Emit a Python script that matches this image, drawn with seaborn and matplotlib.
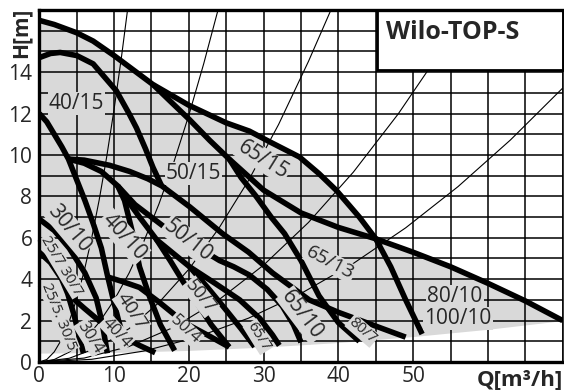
import numpy as np
import matplotlib
matplotlib.use('Agg')
import matplotlib.pyplot as plt
import seaborn as sns
from matplotlib.patches import Rectangle

# pump curves, Q in m3/h, H in m
env_q = [0, 2, 5, 7.2, 10, 15.2, 20, 25, 28.1, 31, 34.8, 37.4, 39.7, 42.8, 45, 47, 49, 51.2]
env_h = [16.5, 16.3, 15.9, 15.5, 14.8, 13.4, 12.4, 11.55, 11.15, 10.6, 9.9, 9.1, 8.3, 7.0, 5.95, 4.6, 3.0, 1.35]

b80_q = [15.2, 17.5, 20.1, 22.8, 25.4, 30, 35, 40, 45, 50, 55, 60, 65, 70]
b80_h = [13.4, 12.6, 11.7, 10.7, 9.8, 8.3, 7.2, 6.5, 5.95, 5.3, 4.6, 3.8, 2.95, 2.0]

c6513_q = [25.4, 27, 29, 31, 32.8, 35, 37.4, 40, 42.8]
c6513_h = [9.8, 8.9, 8.0, 7.0, 6.2, 4.9, 3.2, 1.9, 1.0]

c4015_q = [0, 1.5, 2.8, 5, 7.2, 10.3, 12, 13, 14.2, 15.2, 16.3]
c4015_h = [14.7, 14.9, 14.95, 14.8, 14.4, 13.1, 12.0, 11.3, 10.3, 9.4, 8.55]

c12_q = [0, 1, 2, 3, 3.9, 5, 6.1, 7.2, 8.3, 9.1, 9.9, 10.6, 11.2]
c12_h = [12, 11.6, 11.0, 10.4, 9.8, 8.8, 7.8, 6.7, 5.5, 4.2, 3.0, 2.0, 1.25]

flat_q = [3.9, 6, 9.4, 12.1, 14.5, 16.4, 20.1, 24.5, 28, 31.2, 36.1, 40, 43, 46, 49]
flat_h = [9.8, 9.75, 9.5, 9.2, 8.85, 8.5, 7.5, 6.2, 5.3, 4.3, 3.0, 2.4, 2.0, 1.6, 1.2]

c5010_q = [3.9, 6, 8.3, 10.5, 12.8, 16.8, 20, 24.1, 26, 28.1, 30.5, 32.5, 34, 35]
c5010_h = [9.8, 9.6, 9.2, 8.5, 7.6, 6.5, 5.8, 4.9, 4.6, 4.2, 3.5, 2.7, 1.8, 0.95]

cmid_q = [10.5, 12, 13.4, 15.7, 20.1, 23.5, 26.8, 29.5, 31.2, 32.1]
cmid_h = [8.5, 7.7, 7.0, 5.9, 4.6, 3.8, 3.0, 2.1, 1.3, 0.8]

c507_q = [15.7, 17.5, 19.2, 21, 23, 25.4]
c507_h = [5.9, 4.9, 3.9, 2.9, 1.8, 0.72]

c657_q = [20.1, 22.5, 25, 27, 28.8]
c657_h = [4.6, 3.6, 2.5, 1.6, 0.74]

c4010_q = [10.5, 11.4, 12.5, 13.4, 14.8, 16.2, 18.1]
c4010_h = [8.5, 7.8, 6.2, 4.6, 3.1, 1.8, 0.55]

c504_q = [9.2, 11, 13.4, 16, 19.4, 22.5, 25.4]
c504_h = [4.1, 3.9, 3.6, 2.9, 1.9, 1.3, 0.72]

l1_q = [0, 2, 4, 6.1, 7.6, 8.4, 9.1]
l1_h = [6.9, 6.35, 5.5, 4.3, 3.1, 1.9, 0.42]

l2_q = [0, 1.5, 3, 3.8, 4.7, 5.3, 5.9]
l2_h = [5.3, 4.8, 4.0, 3.3, 2.2, 1.3, 0.42]

l3_q = [3.8, 6, 8.3, 11, 13.4, 15.5]
l3_h = [3.3, 2.6, 1.9, 1.25, 0.8, 0.45]

thick_curves = [
    (env_q, env_h), (b80_q, b80_h), (c6513_q, c6513_h), (c4015_q, c4015_h),
    (c12_q, c12_h), (flat_q, flat_h), (c5010_q, c5010_h), (cmid_q, cmid_h),
    (c507_q, c507_h), (c657_q, c657_h), (c4010_q, c4010_h), (c504_q, c504_h),
    (l1_q, l1_h), (l2_q, l2_h), (l3_q, l3_h),
]

# lower edge of the grey working range
floor_q = [0, 10, 20, 30, 40, 50, 60, 70]
floor_h = [0.43, 0.46, 0.56, 0.72, 0.94, 1.23, 1.58, 2.0]

# thin system curves
sys1_q = [0, 1, 2, 3, 4, 5, 6, 7, 8, 9, 10, 11, 11.8]
sys1_h = [0, 0.12, 0.49, 1.10, 1.95, 3.05, 4.39, 5.98, 7.81, 9.88, 12.2, 14.76, 17.0]
sys2_q = [0, 2, 4, 6, 8, 10, 12, 14, 16, 18, 20, 22, 23.9]
sys2_h = [0, 0.12, 0.48, 1.07, 1.91, 2.98, 4.29, 5.84, 7.63, 9.66, 11.92, 14.42, 17.0]
sys3_q = [0, 4, 8, 12, 16, 20, 24, 28, 32, 36, 39]
sys3_h = [0, 0.18, 0.72, 1.61, 2.87, 4.48, 6.45, 8.78, 11.47, 14.52, 17.0]
sys4_q = [0, 6, 12, 18, 24, 30, 36, 42, 48, 54, 57.2]
sys4_h = [0, 0.19, 0.75, 1.68, 3.0, 4.68, 6.74, 9.17, 11.98, 15.16, 17.0]
sys5_q = [0, 7, 14, 21, 28, 35, 42, 49, 56, 63, 70]
sys5_h = [0, 0.13, 0.53, 1.19, 2.12, 3.31, 4.76, 6.48, 8.47, 10.72, 13.23]
sys_curves = [(sys1_q, sys1_h), (sys2_q, sys2_h), (sys3_q, sys3_h),
              (sys4_q, sys4_h), (sys5_q, sys5_h)]

# curve labels: text, Q, H, angle, size
curve_labels = [
    ('40/15', 5.0, 12.5, 0, 15),
    ('50/15', 20.6, 9.1, 0, 15),
    ('65/15', 29.95, 9.76, -32, 15),
    ('50/10', 19.9, 5.86, -38, 15),
    ('40/10', 11.3, 6.05, -48, 15),
    ('30/10', 3.97, 6.46, -50, 15),
    ('25/7 30/7', 3.0, 4.65, -59, 11),
    ('25/5. 30/5', 2.63, 2.19, -68, 11),
    ('30/4', 6.78, 1.19, -58, 12),
    ('40/4', 10.35, 1.42, -47, 12),
    ('40/7', 12.35, 2.43, -57, 14),
    ('50/7', 21.5, 3.15, -51, 13),
    ('50/4', 19.5, 1.55, -42, 12),
    ('65/7', 29.3, 1.22, -58, 11),
    ('65/10', 35.1, 2.27, -53, 15),
    ('65/13', 38.9, 4.8, -28, 14),
    ('80/7', 43.2, 1.51, -41, 11),
    ('80/10', 55.6, 3.15, 0, 15),
    ('100/10', 56.0, 2.1, 0, 15),
]

x_ticks = list(range(0, 71, 5))
x_tick_labels = ['0', '', '10', '', '20', '', '30', '', '40', '', '50', '', '', '', '']
y_ticks = list(range(0, 18))
y_tick_labels = [str(v) if v % 2 == 0 and v <= 14 else '' for v in y_ticks]

grey = '#d9d9d9'

sns.set_style('white')
plt.rcParams['font.family'] = ['Open Sans', 'DejaVu Sans']

fig = plt.figure(figsize=(5.64, 3.9), dpi=100)
ax = fig.add_axes([39.3 / 564, 28 / 390, (562.7 - 39.3) / 564, 352 / 390])

# grey working range
qq = np.linspace(0, 70, 701)
upper = np.maximum(np.interp(qq, env_q, env_h, right=0), np.interp(qq, b80_q, b80_h, left=0))
lower = np.interp(qq, floor_q, floor_h)
ax.fill_between(qq, lower, upper, where=upper > lower, color=grey, lw=0, zorder=1)

for q, h in sys_curves:
    sns.lineplot(x=q, y=h, ax=ax, color='black', lw=0.8, sort=False,
                 estimator=None, legend=False, zorder=2)

for q, h in thick_curves:
    sns.lineplot(x=q, y=h, ax=ax, color='black', lw=4.0, sort=False,
                 estimator=None, legend=False, zorder=3)
for ln in ax.lines:
    ln.set_solid_capstyle('butt')
    ln.set_solid_joinstyle('round')

for txt, q, h, ang, fs in curve_labels:
    ax.text(q, h, txt, rotation=ang, fontsize=fs, ha='center', va='center',
            rotation_mode='anchor', zorder=4,
            bbox=dict(boxstyle='square,pad=0.05', fc=grey, ec='none'))

ax.set_xlim(0, 70)
ax.set_ylim(0, 17)
ax.set_xticks(x_ticks)
ax.set_xticklabels(x_tick_labels)
ax.set_yticks(y_ticks)
ax.set_yticklabels(y_tick_labels)
ax.tick_params(length=0, labelsize=15)
ax.tick_params(axis='x', pad=3)
ax.tick_params(axis='y', pad=5)
ax.grid(True, color='black', lw=1.1)
ax.set_axisbelow('line')
for side in ['left', 'bottom', 'top']:
    ax.spines[side].set_linewidth(2.4)
ax.spines['right'].set_linewidth(1.1)
for sp in ax.spines.values():
    sp.set_color('black')
    sp.set_zorder(6)

# title box
ax.add_patch(Rectangle((45.1, 14.1), 24.9, 2.9, fc='white', ec='black', lw=2,
                       zorder=5, clip_on=False))
ax.text(46.4, 15.9, 'Wilo-TOP-S', fontsize=18, fontweight='bold',
        ha='left', va='center', zorder=6)

fig.text(21 / 564, 1 - 33 / 390, 'H[m]', rotation=90, fontsize=15,
         fontweight='bold', ha='center', va='center')
fig.text(563 / 564, 1 - 380 / 390, 'Q[m³/h]', fontsize=16,
         fontweight='bold', ha='right', va='center')

fig.savefig('out.png', dpi=100)
